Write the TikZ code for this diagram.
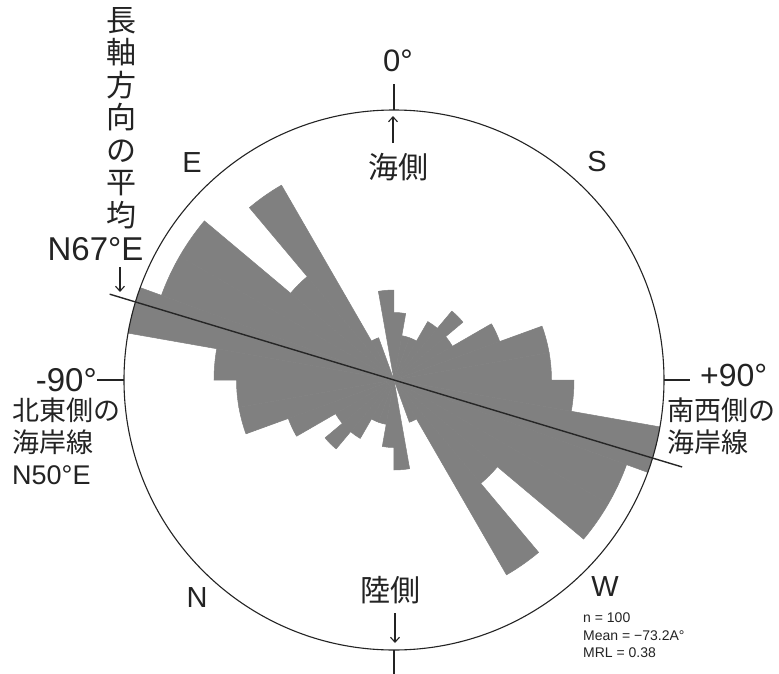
\documentclass[tikz,border=0pt]{standalone}
\usepackage{fontspec}
\setmainfont{Liberation Sans}
\newfontfamily\jp{Noto Sans CJK JP}
\usetikzlibrary{arrows.meta}
\definecolor{petalgray}{RGB}{128,128,128}
\definecolor{inkgray}{RGB}{35,35,35}

\begin{document}
\begin{tikzpicture}[x=1pt,y=1pt,
  petal/.style={fill=petalgray, draw=petalgray, line width=0.5pt, line join=round},
  rim/.style={draw=inkgray, line width=1.1pt},
  meanline/.style={draw=black!85, line width=1.4pt},
  arr/.style={draw=inkgray, line width=1.1pt, -{Straight Barb[length=5pt,width=9pt]}}]
\useasboundingbox (-394,-293) rectangle (385,380);

% rose: 10 degree bins, 22.5pt per count, drawn at both ends of each axis
\foreach \a/\c in {-90/8,-80/12,-70/11,-60/11,-50/6,-40/10,-30/2,-20/0,-10/4,
                   0/3,10/2,20/2,30/3,40/4,50/3,60/5,70/7,80/7}{
  \ifnum\c>0
    \pgfmathsetmacro\s{90-\a}
    \pgfmathsetmacro\r{\c*22.5}
    \filldraw[petal] (0,0) -- (\s:\r pt) arc[start angle=\s, delta angle=-10, radius=\r pt] -- cycle;
    \filldraw[petal] (0,0) -- (\s+180:\r pt) arc[start angle=\s+180, delta angle=-10, radius=\r pt] -- cycle;
  \fi
}

\draw[rim] (0,0) circle[radius=270pt];

\coordinate (c0) at (90:270pt);   \coordinate (t0) at (90:296pt);
\coordinate (cl) at (180:270pt);  \coordinate (tl) at (180:297pt);
\coordinate (cr) at (0:270pt);    \coordinate (tr) at (0:296pt);
\coordinate (cb) at (270:270pt);  \coordinate (tb) at (270:300pt);
\coordinate (mA) at (163.2:297pt);
\coordinate (mB) at (-16.8:301pt);
\coordinate (s0) at (-1,237);     \coordinate (s1) at (-1,264);
\coordinate (l0) at (1,-233);     \coordinate (l1) at (1,-263);
\coordinate (v0) at (-274,113);   \coordinate (v1) at (-274,88);

\begin{scope}[every node/.style={text=inkgray, inner sep=0pt}]
\node[anchor=south, font=\fontsize{31}{31}\selectfont] (deg0) at (4,308) {0°};
\node[anchor=east, font=\fontsize{33}{33}\selectfont] (degl) at (-297,0) {-90°};
\node[anchor=west, font=\fontsize{32}{32}\selectfont] (degr) at (306,5) {+90°};
\node[font=\jp\fontsize{30}{30}\selectfont] (sea) at (5,213) {海側};
\node[font=\jp\fontsize{30}{30}\selectfont] (land) at (-3,-210) {陸側};
\node[font=\fontsize{29}{29}\selectfont] (E) at (-202,217) {E};
\node[font=\fontsize{29}{29}\selectfont] (S) at (203,218) {S};
\node[font=\fontsize{29}{29}\selectfont] (N) at (-197,-218) {N};
\node[font=\fontsize{29}{29}\selectfont] (W) at (211,-207) {W};
\node[align=center, font=\jp\fontsize{30}{32.5}\selectfont] (axis) at (-272,262)
  {長\\軸\\方\\向\\の\\平\\均};
\node[font=\fontsize{33}{33}\selectfont] (dir) at (-298.5,130.5) {N67°E};
\node[anchor=north west, align=left, font=\fontsize{27}{32}\selectfont] (ne) at (-382,-18)
  {{\jp 北東側の}\\{\jp 海岸線}\\N50°E};
\node[anchor=north west, align=left, font=\jp\fontsize{27}{32}\selectfont] (sw) at (273,-18)
  {南西側の\\海岸線};
\node[anchor=north west, align=left, font=\fontsize{14}{17.5}\selectfont] (stats) at (189,-233)
  {n = 100\\Mean = −73.2A°\\MRL = 0.38};
\end{scope}

\begin{scope}[every edge/.style={rim}]
\path (c0) edge (t0);
\path (cl) edge (tl);
\path (cr) edge (tr);
\path (cb) edge (tb);
\end{scope}
\path (mA) edge[meanline] (mB);
\path (s0) edge[arr] (s1);
\path (l0) edge[arr] (l1);
\path (v0) edge[arr] (v1);
\end{tikzpicture}
\end{document}
